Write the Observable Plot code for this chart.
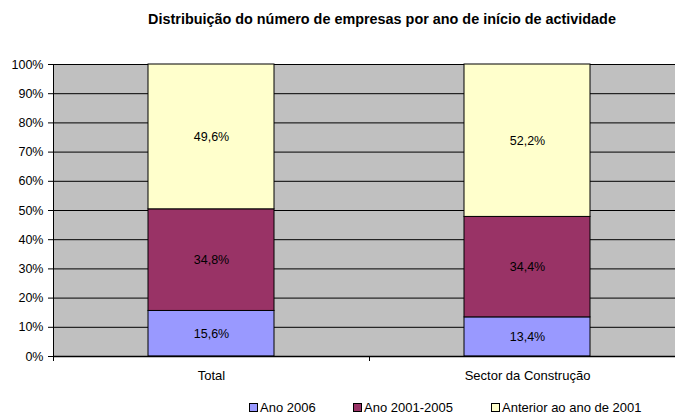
<!DOCTYPE html>
<html>
<head>
<meta charset="utf-8">
<script src="https://cdn.jsdelivr.net/npm/d3@7"></script>
<script src="https://cdn.jsdelivr.net/npm/@observablehq/plot@0.6"></script>
<style>
  body { margin: 0; background: #fff; overflow: hidden; font-family: "Liberation Sans", Arial, sans-serif; }
  #wrap { position: relative; width: 675px; height: 418px; }
  #title { position: absolute; left: 0; width: 764px; top: 11px; text-align: center; font-size: 14.4px; font-weight: bold; color: #000; }
  #legend { position: absolute; top: 400px; left: 0; width: 675px; font-size: 13px; color: #000; }
  .item { position: absolute; top: 0; white-space: nowrap; }
  .sw { display: inline-block; width: 7px; height: 7px; border: 1px solid #000; margin-right: 2px; vertical-align: 0px; }
  svg { overflow: hidden; }
</style>
</head>
<body>
<div id="wrap">
  <div id="chart"></div>
  <div id="title">Distribuição do número de empresas por ano de início de actividade</div>
  <div id="legend"></div>
</div>
<script>
const categories = ["Total", "Sector da Construção"];
const seriesNames = ["Ano 2006", "Ano 2001-2005", "Anterior ao ano de 2001"];
const seriesColors = ["#9999FF", "#993366", "#FFFFCC"];
const ano2006 = [15.6, 13.4];
const ano2001_2005 = [34.8, 34.4];
const anterior2001 = [49.6, 52.2];
const yTicks = [0, 10, 20, 30, 40, 50, 60, 70, 80, 90, 100];
const valueLabels = [["15,6%", "34,8%", "49,6%"], ["13,4%", "34,4%", "52,2%"]];

const seriesValues = [ano2006, ano2001_2005, anterior2001];
const rows = [];
categories.forEach((c, i) => {
  let base = 0;
  seriesValues.forEach((vals, s) => {
    const v = vals[i];
    rows.push({cat: c, i0: i, i1: i + 1, mid: i + 0.5, y1: base, y2: base + v, ym: base + v / 2, series: seriesNames[s], label: valueLabels[i][s]});
    base += v;
  });
});

const chart = Plot.plot({
  width: 675,
  height: 418,
  marginTop: 64,
  marginBottom: 62,
  marginLeft: 53,
  marginRight: 0,
  style: {fontFamily: "'Liberation Sans', Arial, sans-serif", fontSize: "12px", background: "#fff", color: "#000"},
  x: {type: "linear", domain: [0, 2], range: [53, 685]},
  y: {domain: [0, 100], range: [356, 64]},
  color: {domain: seriesNames, range: seriesColors},
  marks: [
    Plot.frame({fill: "#C0C0C0", stroke: null}),
    Plot.ruleY(yTicks.filter(d => d > 0), {stroke: "#000", strokeWidth: 1}),
    Plot.rectY(rows, {x1: "i0", x2: "i1", y1: "y1", y2: "y2", fill: "series", stroke: "#000", strokeWidth: 1, insetLeft: 95, insetRight: 95}),
    Plot.text(rows, {x: "mid", y: "ym", text: "label", fill: "#000", fontSize: 12.5}),
    Plot.ruleY([0], {stroke: "#000", strokeWidth: 1.5}),
    Plot.ruleX([0], {stroke: "#000", strokeWidth: 1}),
    Plot.axisY({ticks: yTicks, tickFormat: d => d + "%", tickSize: 5, tickPadding: 5, fontSize: 12.5, stroke: "#000"}),
    Plot.axisX({ticks: [0, 1, 2], tickSize: 5, tickFormat: () => "", stroke: "#000"}),
    Plot.axisX({ticks: [0.5, 1.5], tickSize: 0, tickPadding: 14, tickFormat: d => categories[Math.floor(d)], fontSize: 13})
  ]
});
document.getElementById("chart").appendChild(chart);

const legend = document.getElementById("legend");
const positions = [249, 353, 491];
seriesNames.forEach((n, k) => {
  const d = document.createElement("div");
  d.className = "item";
  d.style.left = positions[k] + "px";
  d.innerHTML = `<span class="sw" style="background:${seriesColors[k]}"></span>${n}`;
  legend.appendChild(d);
});
</script>
</body>
</html>
